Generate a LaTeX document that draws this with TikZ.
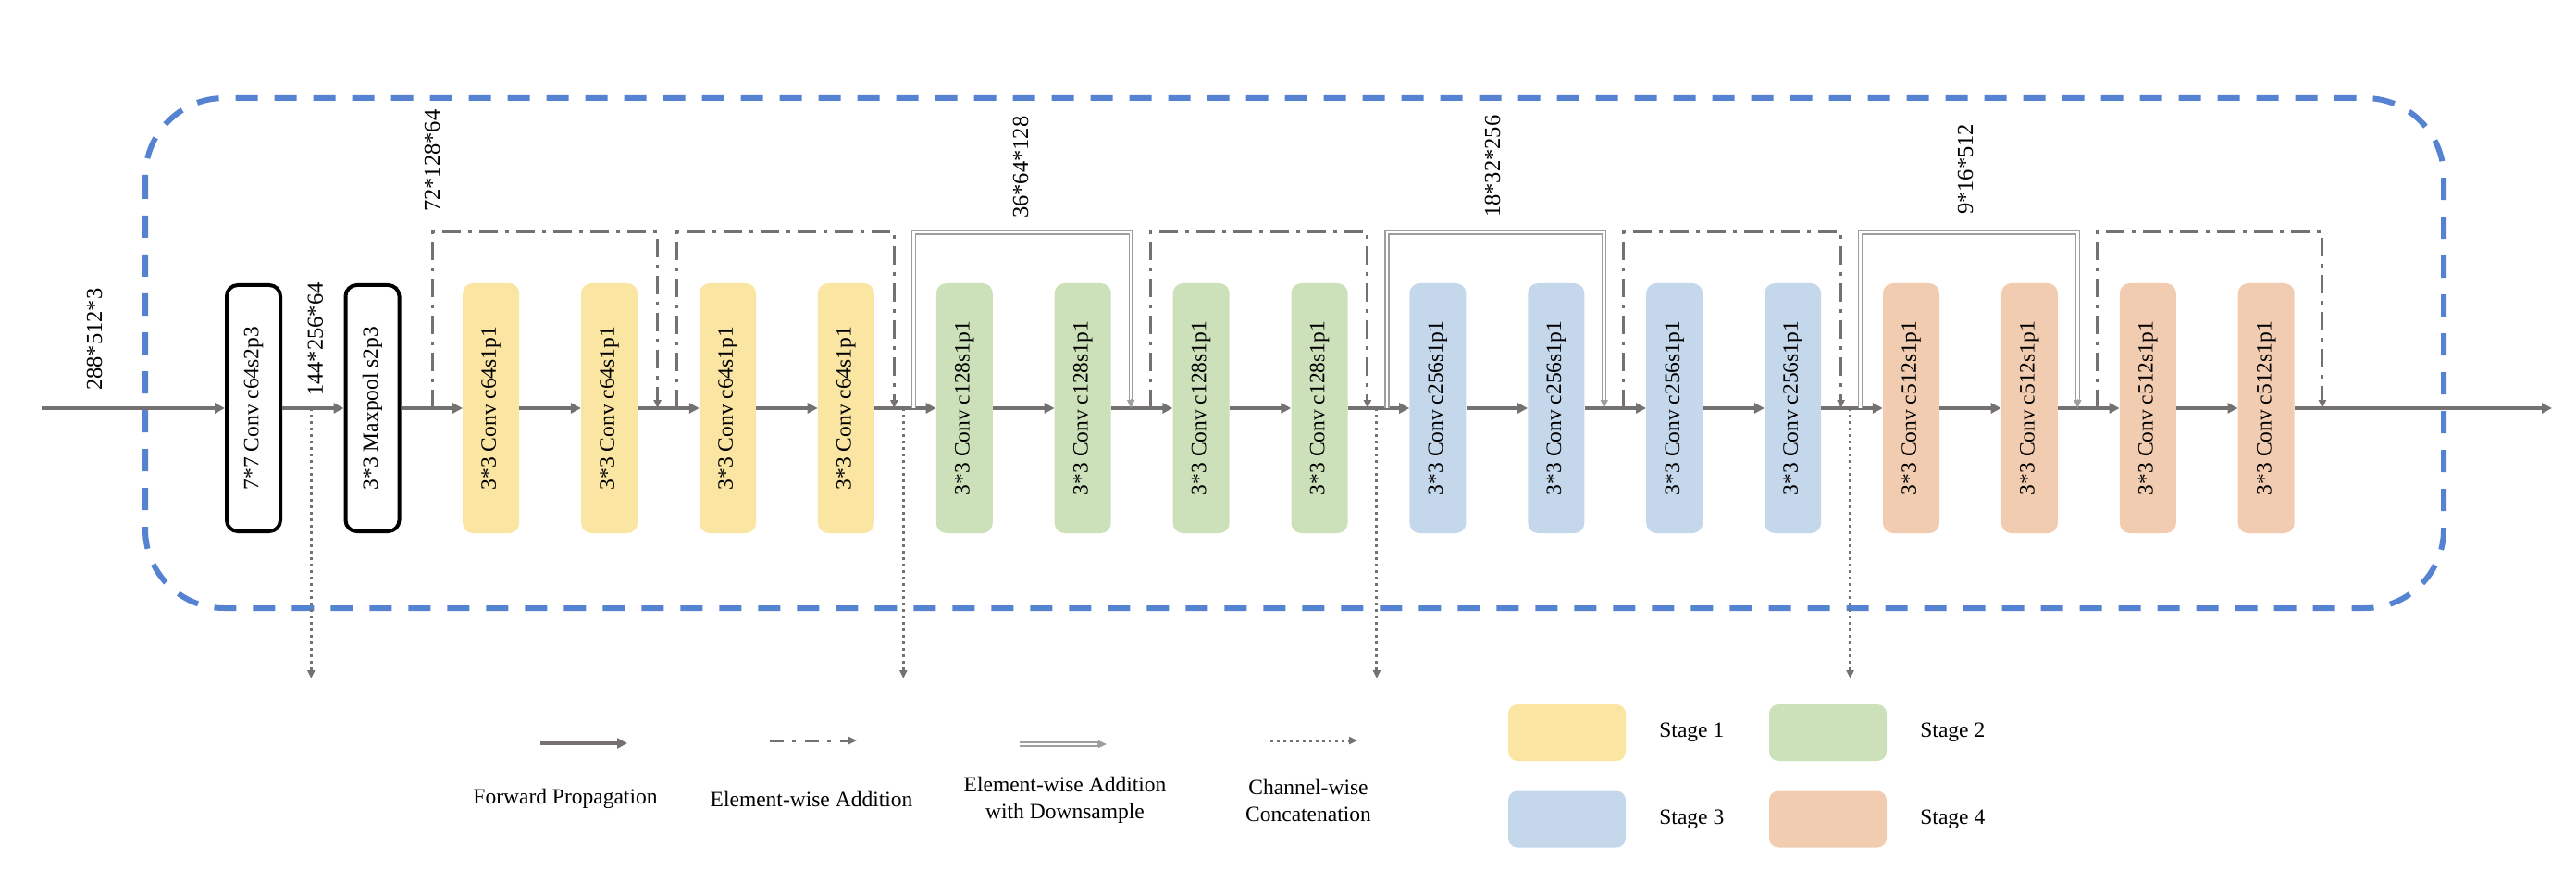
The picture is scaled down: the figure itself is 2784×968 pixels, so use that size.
\documentclass[tikz,border=0pt]{standalone}
\usepackage{fontspec}
\setmainfont{Liberation Serif}
\usepackage{xcolor}
\usetikzlibrary{positioning,arrows.meta,calc}

\definecolor{stageone}{RGB}{250,229,162}
\definecolor{stagetwo}{RGB}{204,224,185}
\definecolor{stagethree}{RGB}{196,215,235}
\definecolor{stagefour}{RGB}{242,204,176}
\definecolor{arrowgray}{RGB}{118,113,113}
\definecolor{dsgray}{RGB}{158,158,158}
\definecolor{borderblue}{RGB}{86,130,210}

\newcommand{\convfont}{\fontsize{23.5}{28}\selectfont}
\newcommand{\dimsfont}{\fontsize{24.5}{29}\selectfont}
\newcommand{\keyfont}{\fontsize{23.5}{29}\selectfont}
\newcommand{\vtext}[1]{\rotatebox{90}{#1}}

\begin{document}
\begin{tikzpicture}[
  x=1pt, y=-1pt,
  node distance=66.5pt,
  convbox/.style={rectangle, draw=black, line width=4pt, rounded corners=12pt,
    minimum width=58pt, minimum height=266pt, inner sep=1pt, font=\convfont},
  stagebox/.style={rectangle, rounded corners=11pt, minimum width=61pt,
    minimum height=270pt, inner sep=1pt, font=\convfont},
  s1box/.style={stagebox, fill=stageone},
  s2box/.style={stagebox, fill=stagetwo},
  s3box/.style={stagebox, fill=stagethree},
  s4box/.style={stagebox, fill=stagefour},
  keybox/.style={rectangle, rounded corners=10pt, minimum width=127pt, minimum height=61pt},
  dimtext/.style={rotate=90, anchor=west, inner sep=0pt, font=\dimsfont},
  keytext/.style={align=center, inner sep=0pt, font=\keyfont},
  fwd/.style={draw=arrowgray, line width=4pt, -{Triangle[length=11pt,width=11pt]}},
  addskip/.style={draw=arrowgray, line width=3pt, dash pattern=on 20pt off 8pt on 4pt off 8pt,
    -{Triangle[length=9pt,width=8pt]}},
  dsskip/.style={draw=dsgray, line width=1.3pt, double=white, double distance=2.6pt,
    shorten >=8pt},
  dstip/.style={draw=dsgray, line width=1.3pt, -{Triangle[length=9pt,width=8pt]}},
  concat/.style={draw=arrowgray, line width=3pt, dash pattern=on 3pt off 4pt,
    -{Triangle[length=9pt,width=8pt]}},
  border/.style={draw=borderblue, line width=6pt, dash pattern=on 24pt off 18pt, rounded corners=85pt}
]
\useasboundingbox (0,0) rectangle (2784,968);

% Stem
\node[convbox] (b0) at (274,441) {\vtext{7*7 Conv c64s2p3}};
\node[convbox, right=of b0] (b1) {\vtext{3*3 Maxpool s2p3}};

% Stage 1
\node[s1box, right=of b1] (b2) {\vtext{3*3 Conv c64s1p1}};
\node[s1box, right=of b2] (b3) {\vtext{3*3 Conv c64s1p1}};
\node[s1box, right=of b3] (b4) {\vtext{3*3 Conv c64s1p1}};
\node[s1box, right=of b4] (b5) {\vtext{3*3 Conv c64s1p1}};

% Stage 2
\node[s2box, right=of b5] (b6) {\vtext{3*3 Conv c128s1p1}};
\node[s2box, right=of b6] (b7) {\vtext{3*3 Conv c128s1p1}};
\node[s2box, right=of b7] (b8) {\vtext{3*3 Conv c128s1p1}};
\node[s2box, right=of b8] (b9) {\vtext{3*3 Conv c128s1p1}};

% Stage 3
\node[s3box, right=of b9] (b10) {\vtext{3*3 Conv c256s1p1}};
\node[s3box, right=of b10] (b11) {\vtext{3*3 Conv c256s1p1}};
\node[s3box, right=of b11] (b12) {\vtext{3*3 Conv c256s1p1}};
\node[s3box, right=of b12] (b13) {\vtext{3*3 Conv c256s1p1}};

% Stage 4
\node[s4box, right=of b13] (b14) {\vtext{3*3 Conv c512s1p1}};
\node[s4box, right=of b14] (b15) {\vtext{3*3 Conv c512s1p1}};
\node[s4box, right=of b15] (b16) {\vtext{3*3 Conv c512s1p1}};
\node[s4box, right=of b16] (b17) {\vtext{3*3 Conv c512s1p1}};

% Forward line
\coordinate (in) at (45,441);
\coordinate (out) at (2758,441);
\draw[fwd] (in) -- (b0);
\draw[fwd] (b0) -- (b1);
\draw[fwd] (b1) -- (b2);
\draw[fwd] (b2) -- (b3);
\draw[fwd] (b3) -- (b4);
\draw[fwd] (b4) -- (b5);
\draw[fwd] (b5) -- (b6);
\draw[fwd] (b6) -- (b7);
\draw[fwd] (b7) -- (b8);
\draw[fwd] (b8) -- (b9);
\draw[fwd] (b9) -- (b10);
\draw[fwd] (b10) -- (b11);
\draw[fwd] (b11) -- (b12);
\draw[fwd] (b12) -- (b13);
\draw[fwd] (b13) -- (b14);
\draw[fwd] (b14) -- (b15);
\draw[fwd] (b15) -- (b16);
\draw[fwd] (b16) -- (b17);
\draw[fwd] (b17) -- (out);

% Backbone frame
\draw[border] (157,106) rectangle (2641,657);

% Gaps on the forward line
\coordinate (g01) at ($(b0.east)!.5!(b1.west)$);
\coordinate (g12) at ($(b1.east)!.5!(b2.west)$);
\coordinate (g34) at ($(b3.east)!.5!(b4.west)$);
\coordinate (g56) at ($(b5.east)!.5!(b6.west)$);
\coordinate (g78) at ($(b7.east)!.5!(b8.west)$);
\coordinate (g910) at ($(b9.east)!.5!(b10.west)$);
\coordinate (g1112) at ($(b11.east)!.5!(b12.west)$);
\coordinate (g1314) at ($(b13.east)!.5!(b14.west)$);
\coordinate (g1516) at ($(b15.east)!.5!(b16.west)$);
\coordinate (top) at (0,251);
\coordinate (low) at (0,733);

% Shortcut ends
\coordinate (r1s) at ($(g12)+(1,0)$);
\coordinate (r1e) at ($(g34)+(-12,0)$);
\coordinate (r2s) at ($(g34)+(9,0)$);
\coordinate (r2e) at ($(g56)+(-12,0)$);
\coordinate (d2s) at ($(g56)+(9,0)$);
\coordinate (d2e) at ($(g78)+(-12,0)$);
\coordinate (r3s) at ($(g78)+(9,0)$);
\coordinate (r3e) at ($(g910)+(-12,0)$);
\coordinate (d3s) at ($(g910)+(9,0)$);
\coordinate (d3e) at ($(g1112)+(-12,0)$);
\coordinate (r4s) at ($(g1112)+(9,0)$);
\coordinate (r4e) at ($(g1314)+(-12,0)$);
\coordinate (d4s) at ($(g1314)+(9,0)$);
\coordinate (d4e) at ($(g1516)+(-12,0)$);
\coordinate (r5s) at ($(g1516)+(9,0)$);
\coordinate (r5e) at ($(b17.east)+(30,0)$);

% Element-wise additions
\draw[addskip] (r1s) -- (r1s |- top) -| (r1e);
\draw[addskip] (r2s) -- (r2s |- top) -| (r2e);
\draw[addskip] (r3s) -- (r3s |- top) -| (r3e);
\draw[addskip] (r4s) -- (r4s |- top) -| (r4e);
\draw[addskip] (r5s) -- (r5s |- top) -| (r5e);

% Additions with downsample (double line, single tip)
\draw[dsskip] (d2s) -- (d2s |- top) -| (d2e);
\draw[dstip] ($(d2e)+(0,-10)$) -- (d2e);
\draw[dsskip] (d3s) -- (d3s |- top) -| (d3e);
\draw[dstip] ($(d3e)+(0,-10)$) -- (d3e);
\draw[dsskip] (d4s) -- (d4s |- top) -| (d4e);
\draw[dstip] ($(d4e)+(0,-10)$) -- (d4e);

% Concatenation outputs
\coordinate (c1) at ($(g01)+(-2,0)$);
\coordinate (c2) at ($(g56)+(-2,0)$);
\coordinate (c3) at ($(g910)+(-2,0)$);
\coordinate (c4) at ($(g1314)+(-2,0)$);
\draw[concat] (c1) -- (c1 |- low);
\draw[concat] (c2) -- (c2 |- low);
\draw[concat] (c3) -- (c3 |- low);
\draw[concat] (c4) -- (c4 |- low);

% Feature sizes
\node[dimtext] (sz0) at (102,422) {288*512*3};
\node[dimtext] (sz1) at (341,428) {144*256*64};
\node[dimtext] (sz2) at (467,229) {72*128*64};
\node[dimtext] (sz3) at (1103,236) {36*64*128};
\node[dimtext] (sz4) at (1613,235) {18*32*256};
\node[dimtext] (sz5) at (2124,232) {9*16*512};

% Legend: connectors
\coordinate (lf1) at (584,803);
\coordinate (lf2) at (678,803);
\coordinate (la1) at (832,800);
\coordinate (la2) at (926,800);
\coordinate (ld1) at (1102,804);
\coordinate (ld2) at (1196,804);
\coordinate (lc1) at (1373,800);
\coordinate (lc2) at (1467,800);
\draw[fwd] (lf1) -- (lf2);
\draw[addskip, dash pattern=on 15pt off 9pt on 4pt off 10pt] (la1) -- (la2);
\draw[dsskip] (ld1) -- (ld2);
\draw[dstip] ($(ld2)+(-10,0)$) -- (ld2);
\draw[concat] (lc1) -- (lc2);
\node[keytext] (lfwd) at (611,863) {Forward Propagation};
\node[keytext] (ladd) at (877,863) {Element-wise Addition};
\node[keytext] (lds) at (1151,864) {Element-wise Addition\\with Downsample};
\node[keytext] (lcat) at (1414,865) {Channel-wise\\Concatenation};

% Legend: stages
\node[keybox, fill=stageone] (k1) at (1693.5,791.5) {};
\node[keybox, fill=stagetwo] (k2) at (1975.5,791.5) {};
\node[keybox, fill=stagethree] (k3) at (1693.5,885) {};
\node[keybox, fill=stagefour] (k4) at (1975.5,885) {};
\node[keytext, right=36pt of k1] (k1t) {Stage 1};
\node[keytext, right=36pt of k2] (k2t) {Stage 2};
\node[keytext, right=36pt of k3] (k3t) {Stage 3};
\node[keytext, right=36pt of k4] (k4t) {Stage 4};

\end{tikzpicture}
\end{document}
